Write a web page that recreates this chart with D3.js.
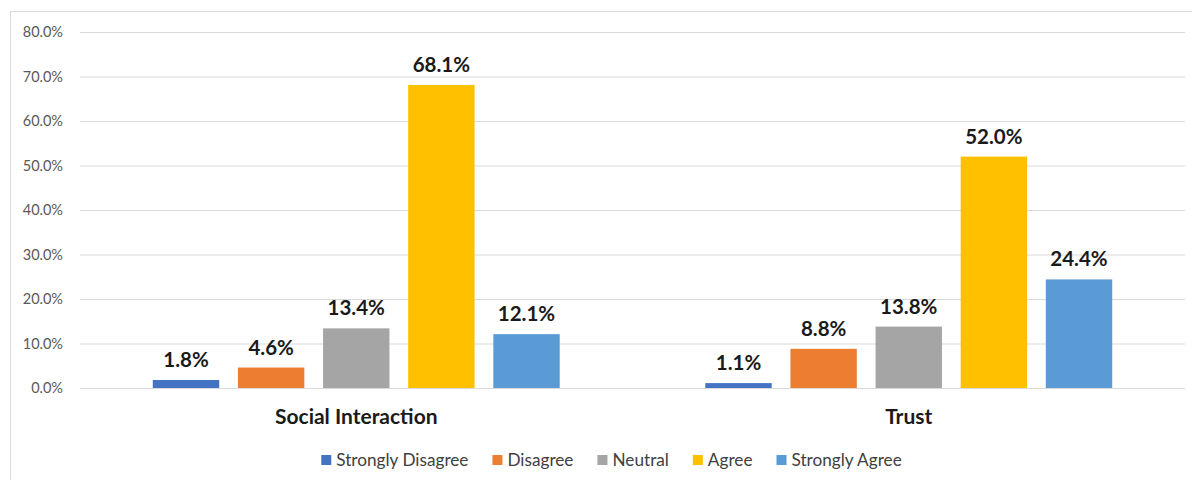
<!DOCTYPE html>
<html>
<head>
<meta charset="utf-8">
<script src="https://cdn.jsdelivr.net/npm/d3@7"></script>
<style>
  html, body { margin: 0; padding: 0; background: #fff; }
  svg { display: block; }
</style>
</head>
<body>
<svg id="chart" width="1192" height="480"></svg>
<script>
// Survey responses per dimension, in percent
const categories = ["Social Interaction", "Trust"];
const series = ["Strongly Disagree", "Disagree", "Neutral", "Agree", "Strongly Agree"];
const stronglyDisagree = [1.8, 1.1];
const disagree = [4.6, 8.8];
const neutral = [13.4, 13.8];
const agree = [68.1, 52.0];
const stronglyAgree = [12.1, 24.4];
const yTicks = [0, 10, 20, 30, 40, 50, 60, 70, 80];
const colors = ["#4472C4", "#ED7D31", "#A5A5A5", "#FFC000", "#5B9BD5"];

const seriesValues = [stronglyDisagree, disagree, neutral, agree, stronglyAgree];
const font = "Lato, 'Open Sans', sans-serif";

const svg = d3.select("#chart");
const margin = { left: 80, right: 7, top: 32, bottom: 92 };
const W = 1192, H = 480;

// chart frame
svg.append("rect")
  .attr("x", 10.5).attr("y", 11.5)
  .attr("width", 1190).attr("height", 480)
  .attr("fill", "#fff").attr("stroke", "#d9d9d9").attr("stroke-width", 1);

const y = d3.scaleLinear().domain([0, 80]).range([H - margin.bottom, margin.top]);
const x0 = d3.scaleBand().domain(categories).range([margin.left, W - margin.right]);
const x1 = d3.scaleBand().domain(series).range([0, x0.bandwidth()])
  .paddingInner(0.22).paddingOuter(0.855);
const color = d3.scaleOrdinal().domain(series).range(colors);

// gridlines and y labels
const yAxis = d3.axisLeft(y).tickValues(yTicks)
  .tickSize(-(W - margin.right - margin.left))
  .tickPadding(17)
  .tickFormat(d => d.toFixed(1) + "%");
const gy = svg.append("g").attr("transform", `translate(${margin.left},0)`).call(yAxis);
gy.select(".domain").remove();
gy.selectAll(".tick line").attr("stroke", "#d9d9d9").attr("stroke-width", 1);
gy.selectAll(".tick text")
  .attr("fill", "#595959").attr("font-family", font).attr("font-size", 14.5);

// bars
const rows = categories.map((c, i) => ({
  category: c,
  values: series.map((s, j) => ({ series: s, value: seriesValues[j][i] }))
}));

const groups = svg.append("g").selectAll("g").data(rows).join("g")
  .attr("transform", d => `translate(${x0(d.category)},0)`);

groups.selectAll("rect").data(d => d.values).join("rect")
  .attr("x", d => x1(d.series))
  .attr("y", d => y(d.value))
  .attr("width", x1.bandwidth())
  .attr("height", d => y(0) - y(d.value))
  .attr("fill", d => color(d.series));

groups.selectAll("text.val").data(d => d.values).join("text")
  .attr("class", "val")
  .attr("x", d => x1(d.series) + x1.bandwidth() / 2)
  .attr("y", d => y(d.value) - 13)
  .attr("text-anchor", "middle")
  .attr("font-family", font).attr("font-weight", "bold").attr("font-size", 20.5)
  .attr("fill", "#1a1a1a")
  .text(d => d.value.toFixed(1) + "%");

// category labels
svg.append("g").selectAll("text").data(categories).join("text")
  .attr("x", d => x0(d) + x0.bandwidth() / 2)
  .attr("y", 424)
  .attr("text-anchor", "middle")
  .attr("font-family", font).attr("font-weight", "bold").attr("font-size", 21)
  .attr("fill", "#1a1a1a")
  .text(d => d);

// legend
const legend = svg.append("g").attr("transform", "translate(0,460)");
const items = legend.selectAll("g").data(series).join("g");
items.append("rect").attr("width", 10).attr("height", 10).attr("y", -5)
  .attr("fill", d => color(d));
items.append("text").attr("x", 15).attr("y", 6)
  .attr("font-family", font).attr("font-size", 17.2).attr("fill", "#404040")
  .text(d => d);
let widths = [];
items.each(function() { widths.push(this.getBBox().width); });
const gap = 24;
const total = d3.sum(widths) + gap * (widths.length - 1);
let cx = (322 + 901) / 2 - total / 2;
items.attr("transform", (d, i) => {
  const t = `translate(${cx},0)`;
  cx += widths[i] + gap;
  return t;
});
</script>
</body>
</html>
